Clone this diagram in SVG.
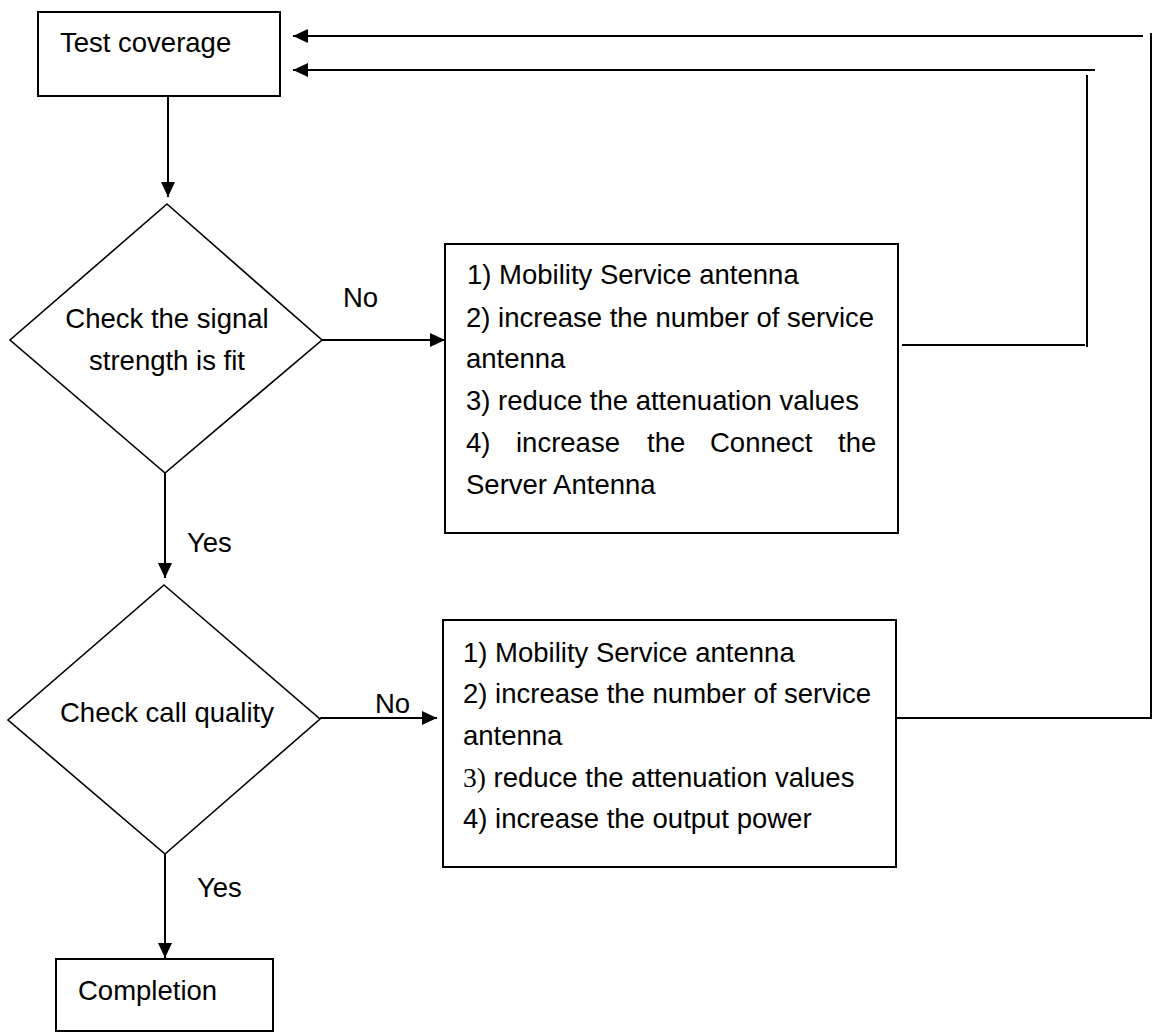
<svg xmlns="http://www.w3.org/2000/svg" width="1152" height="1036" viewBox="0 0 1152 1036">
<defs>
<style>
.box{fill:#fff;stroke:#000;stroke-width:2}
.dia{fill:#fff;stroke:#000;stroke-width:1.6}
.ln{fill:none;stroke:#000;stroke-width:2}
.t{font-family:"Liberation Sans",Arial,sans-serif;font-size:27.5px;fill:#000}
.c{text-anchor:middle}
.s{font-family:"Liberation Serif","Times New Roman",serif}
</style>
<marker id="ah" viewBox="0 0 15 14" refX="15" refY="7" markerWidth="15" markerHeight="14" markerUnits="userSpaceOnUse" orient="auto">
<path d="M0,0 L15,7 L0,14 z" fill="#000"/>
</marker>
</defs>
<rect width="1152" height="1036" fill="#fff"/>

<g id="connectors">
<line class="ln" x1="168" y1="96" x2="168" y2="197" marker-end="url(#ah)"/>
<line class="ln" x1="165" y1="473" x2="165" y2="578" marker-end="url(#ah)"/>
<line class="ln" x1="165" y1="854" x2="165" y2="958" marker-end="url(#ah)"/>
<line class="ln" x1="322" y1="340" x2="445" y2="340" marker-end="url(#ah)"/>
<line class="ln" x1="320" y1="718" x2="437" y2="718" marker-end="url(#ah)"/>
<polyline class="ln" points="902,345 1085,345"/>
<line class="ln" x1="1087" y1="75" x2="1087" y2="347"/>
<line class="ln" x1="1095" y1="70" x2="293" y2="70" marker-end="url(#ah)"/>
<polyline class="ln" points="896,718 1151,718"/>
<line class="ln" x1="1151" y1="33" x2="1151" y2="719"/>
<line class="ln" x1="1143" y1="36" x2="293" y2="36" marker-end="url(#ah)"/>
<text class="t" x="343" y="307">No</text>
<text class="t" x="375" y="713">No</text>
<text class="t" x="187" y="552">Yes</text>
<text class="t" x="197" y="897">Yes</text>
</g>

<g id="test-coverage">
<rect class="box" x="38" y="12" width="242" height="84"/>
<text class="t" x="60" y="52">Test coverage</text>
</g>

<g id="check-signal">
<polygon class="dia" points="167,204 322,340 165,473 10,340"/>
<text class="t c" x="167" y="328">Check the signal</text>
<text class="t c" x="167" y="370">strength is fit</text>
</g>

<g id="actions-1">
<rect class="box" x="445" y="244" width="453" height="289"/>
<text class="t" x="467" y="284">1) Mobility Service antenna</text>
<text class="t" x="466" y="327">2) increase the number of service</text>
<text class="t" x="466" y="368">antenna</text>
<text class="t" x="466" y="410">3) reduce the attenuation values</text>
<text class="t" y="452"><tspan x="466">4)</tspan><tspan x="516">increase</tspan><tspan x="647">the</tspan><tspan x="710">Connect</tspan><tspan x="838">the</tspan></text>
<text class="t" x="466" y="494">Server Antenna</text>
</g>

<g id="check-call">
<polygon class="dia" points="164,585 320,719 165,854 8,720"/>
<text class="t c" x="167" y="722">Check call quality</text>
</g>

<g id="actions-2">
<rect class="box" x="443" y="620" width="453" height="247"/>
<text class="t" x="463" y="662">1) Mobility Service antenna</text>
<text class="t" x="463" y="703">2) increase the number of service</text>
<text class="t" x="463" y="745">antenna</text>
<text class="t" x="463" y="787"><tspan class="s">3)</tspan> reduce the attenuation values</text>
<text class="t" x="463" y="828">4) increase the output power</text>
</g>

<g id="completion">
<rect class="box" x="56" y="959" width="217" height="72"/>
<text class="t" x="78" y="1000">Completion</text>
</g>
</svg>
